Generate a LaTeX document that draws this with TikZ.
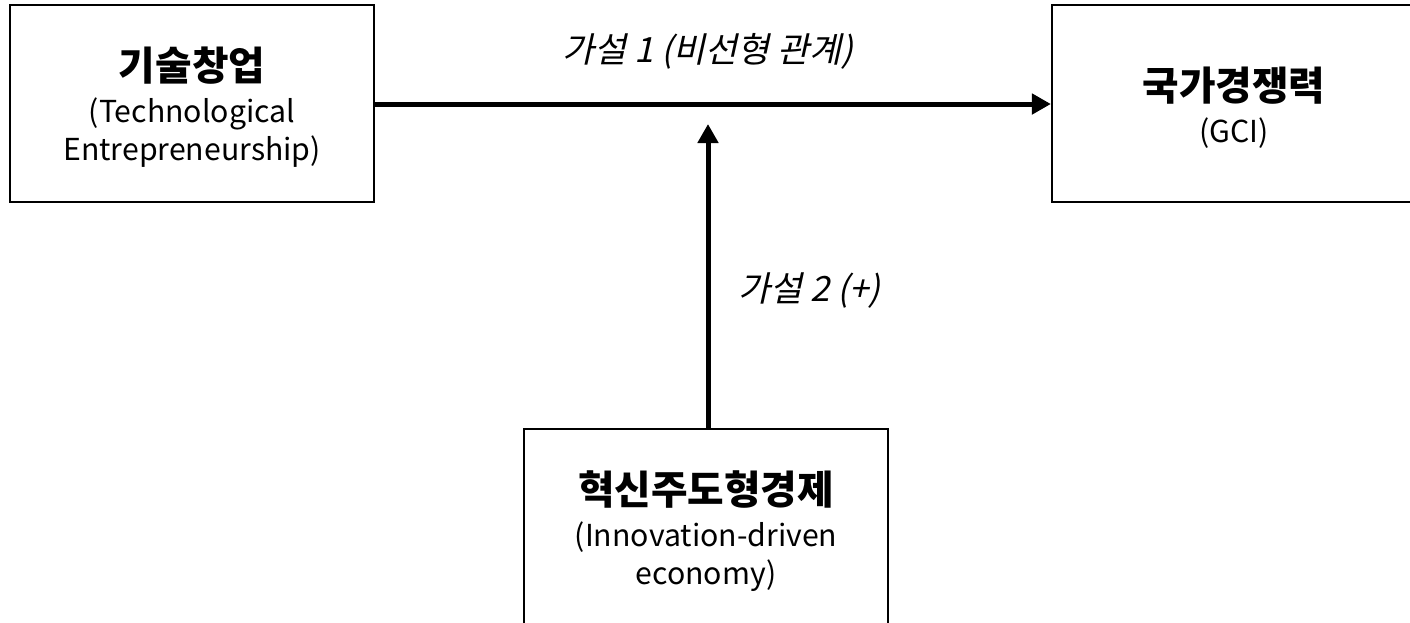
\documentclass[tikz,border=0pt]{standalone}
\usepackage{fontspec}
\setmainfont{Noto Sans CJK KR}
\newfontfamily\slfont{Noto Sans CJK KR}[FakeSlant=0.22]
\usetikzlibrary{arrows.meta,calc}
\newcommand{\ttlfont}{\fontsize{11.3pt}{10.8pt}\selectfont\bfseries}
\newcommand{\engfont}{\fontsize{8.6pt}{10.8pt}\selectfont\mdseries}
\tikzset{
  box/.style={draw=black, line width=0.22mm, minimum width=36.4mm, minimum height=19.7mm, inner sep=0pt},
  txt/.style={align=center, inner sep=0pt, font=\fontsize{8.6pt}{10.8pt}\selectfont},
  conn/.style={line width=0.5mm, -{Triangle[length=1.9mm,width=2mm]}},
  lbl/.style={font=\slfont\fontsize{9.9pt}{11pt}\selectfont, inner sep=0pt}
}
\begin{document}
\begin{tikzpicture}[x=0.1mm,y=-0.1mm]
\useasboundingbox (0,0) rectangle (1410,622);
\clip (0,0) rectangle (1410,622);
\node[box] (tech) at (192,103.5) {};
\node[box] (gci) at (1234,103.5) {};
\node[box] (inno) at (706,527.5) {};
\node[txt] (techt) at ($(tech.center)+(0,4)$) {\ttlfont 기술창업\\[1.2pt]\engfont (Technological\\\engfont Entrepreneurship)};
\node[txt] (gcit) at ($(gci.center)+(0,4)$) {\ttlfont 국가경쟁력\\[1.2pt]\engfont (GCI)};
\node[txt] (innot) at ($(inno.center)+(0,4)$) {\ttlfont 혁신주도형경제\\[1.2pt]\engfont (Innovation-driven\\\engfont economy)};
\draw[conn] (tech.east |- 0,104) -- (gci.west |- 0,104);
\coordinate (tip) at (708,124);
\draw[conn] (inno.north -| tip) -- (tip);
\node[lbl] (l1) at (708,51) {가설 1 (비선형 관계)};
\node[lbl, anchor=west] (l2) at (738,291) {가설 2 (+)};
\end{tikzpicture}
\end{document}
